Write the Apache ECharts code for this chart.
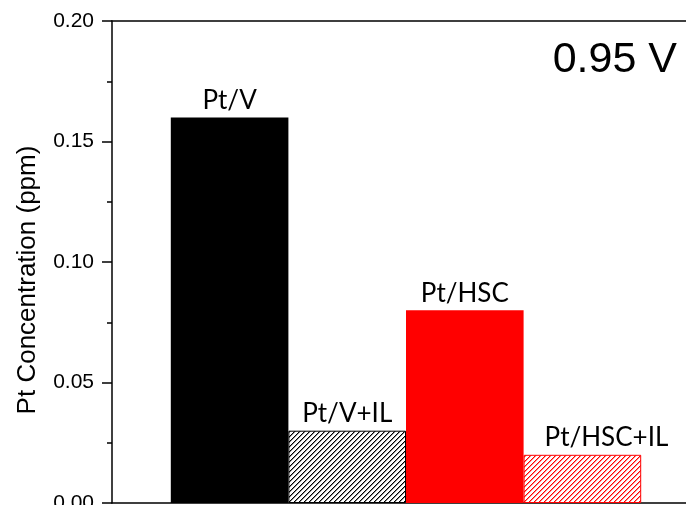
<!DOCTYPE html>
<html>
<head>
<meta charset="utf-8">
<script src="https://cdn.jsdelivr.net/npm/echarts@6/dist/echarts.min.js"></script>
<style>
    html, body {margin: 0; padding: 0; background: #fff;}
    #chart {width: 686px; height: 505px;}
</style>
</head>
<body>
<div id="chart"></div>
<script>
// categories (empty ones pad the axis on both sides)
var categories = ['', 'Pt/V', 'Pt/V+IL', 'Pt/HSC', 'Pt/HSC+IL', ''];
var concentration = ['-', 0.16, 0.03, 0.08, 0.02, '-'];
var yTicks = [0, 0.05, 0.10, 0.15, 0.20];

// hatch pattern, "/" lines
function makeHatch(color) {
    var c = document.createElement('canvas');
    var n = 5;
    c.width = n; c.height = n;
    var ctx = c.getContext('2d');
    ctx.fillStyle = '#fff';
    ctx.fillRect(0, 0, n, n);
    for (var x = 0; x < n; x++) {
        for (var y = 0; y < n; y++) {
            var k = (x + y) % n;
            if (k == 0) {
                ctx.fillStyle = color;
                ctx.fillRect(x, y, 1, 1);
            } else if (k == 1) {
                ctx.globalAlpha = 0.45;
                ctx.fillStyle = color;
                ctx.fillRect(x, y, 1, 1);
                ctx.globalAlpha = 1;
            }
        }
    }
    return {image: c, repeat: 'repeat'};
}

var styles = [
    null,
    {color: '#000'},
    {color: makeHatch('#000'), borderColor: '#000', borderWidth: 1},
    {color: '#ff0000'},
    {color: makeHatch('#ff0000'), borderColor: '#ff0000', borderWidth: 1},
    null
];

var barData = [];
for (var i in concentration) {
    var item = {value: concentration[i]};
    if (styles[i]) item.itemStyle = styles[i];
    barData.push(item);
}
// last label sits a bit to the right in the original
barData[4].label = {offset: [24, 0]};

var chart = echarts.init(document.getElementById('chart'));

var option = {
    animation: false,
    grid: {left: 112, top: 21, width: 588, height: 482, outerBoundsMode: 'none', containLabel: false},
    xAxis: [
        {
            type: 'category',
            data: categories,
            boundaryGap: false,
            axisLine: {lineStyle: {color: '#000', width: 1.5}},
            axisTick: {show: false},
            axisLabel: {show: false}
        },
        {
            type: 'category',
            position: 'top',
            data: categories,
            boundaryGap: false,
            axisLine: {lineStyle: {color: '#000', width: 1.5}},
            axisTick: {show: false},
            axisLabel: {show: false}
        }
    ],
    yAxis: {
        type: 'value',
        min: yTicks[0],
        max: yTicks[yTicks.length - 1],
        interval: 0.05,
        axisLine: {show: true, lineStyle: {color: '#000', width: 1.5}},
        axisTick: {show: true, inside: false, length: 10, lineStyle: {color: '#000', width: 1.5}},
        minorTick: {show: true, splitNumber: 2, length: 5, lineStyle: {color: '#000', width: 1.5}},
        splitLine: {show: false},
        axisLabel: {
            fontFamily: 'Liberation Sans',
            fontSize: 21,
            color: '#000',
            margin: 18,
            formatter: function (v) { return v.toFixed(2); }
        }
    },
    series: [{
        type: 'bar',
        barWidth: '100%',
        data: barData,
        label: {
            show: true,
            position: 'top',
            distance: 4,
            fontFamily: 'Lato',
            fontSize: 26,
            color: '#000',
            formatter: function (p) { return p.name; }
        }
    }],
    graphic: [
        {
            type: 'text',
            x: 677,
            y: 60,
            style: {
                text: '0.95 V',
                font: '43px "Liberation Sans"',
                fill: '#000',
                align: 'right',
                verticalAlign: 'middle'
            }
        },
        {
            type: 'text',
            x: 28,
            y: 280,
            rotation: Math.PI / 2,
            style: {
                text: 'Pt Concentration (ppm)',
                font: '26px "Liberation Sans"',
                fill: '#000',
                align: 'center',
                verticalAlign: 'middle'
            }
        }
    ]
};

chart.setOption(option);
</script>
</body>
</html>
